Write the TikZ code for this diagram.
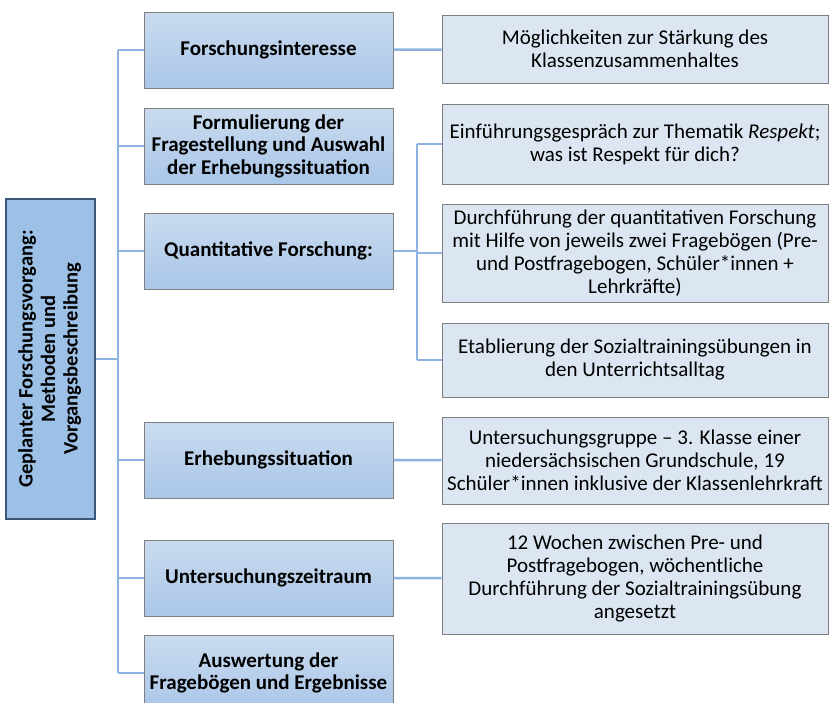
\documentclass[tikz,border=0pt]{standalone}
\usepackage{fontspec}
\setmainfont{Carlito}
\usepackage{tikz}
\usetikzlibrary{positioning, calc}

\definecolor{linkblue}{HTML}{8DB3E2}
\definecolor{rootfill}{HTML}{9DC1E6}
\definecolor{rootedge}{HTML}{3A5778}
\definecolor{midtop}{HTML}{CADBEF}
\definecolor{midbot}{HTML}{A9C6E8}
\definecolor{rightfill}{HTML}{DCE6F2}
\definecolor{boxedge}{HTML}{7F7F7F}

\begin{document}
\begin{tikzpicture}[
    x=1pt, y=-1pt,
    every node/.style={inner sep=2pt},
    root/.style={draw=rootedge, line width=1.3pt, fill=rootfill, minimum width=89pt,
                 minimum height=320pt, align=center,
                 font=\fontsize{20.5}{22.5}\selectfont\bfseries},
    topic/.style={draw=boxedge, line width=1pt, top color=midtop, bottom color=midbot,
                  minimum width=249pt, minimum height=76pt, align=center,
                  font=\fontsize{21}{22.5}\selectfont\bfseries},
    detail/.style={draw=boxedge, line width=1pt, fill=rightfill, minimum width=386pt,
                   align=center, font=\fontsize{21}{23}\selectfont},
    conn/.style={draw=linkblue, line width=2.5pt}
]
\useasboundingbox (0,0) rectangle (830,702);

% ================= Root (rotated title) =================
\node[root] (root) at (50.5,359) {\rotatebox{90}{\begin{tabular}{@{}c@{}}
    Geplanter Forschungsvorgang:\\ Methoden und\\ Vorgangsbeschreibung\end{tabular}}};

% ================= Middle column =================
\node[topic] (interesse) at (268.5,50) {Forschungsinteresse};
\node[topic, below=19pt of interesse] (formulierung) {Formulierung der\\Fragestellung und Auswahl\\der Erhebungssituation};
\node[topic, below=28pt of formulierung] (quanti) {Quantitative Forschung:};
\node[topic, below=132pt of quanti] (erhebung) {Erhebungssituation};
\node[topic, below=41pt of erhebung] (zeitraum) {Untersuchungszeitraum};
\node[topic, below=18pt of zeitraum] (auswertung) {Auswertung der\\Fragebögen und Ergebnisse};

% ================= Right column =================
\node[detail, minimum height=68pt] (moeglich) at (635,49) {Möglichkeiten zur Stärkung des\\Klassenzusammenhaltes};
\node[detail, minimum height=80pt, below=20pt of moeglich] (einf) {Einführungsgespräch zur Thematik \emph{Respekt};\\was ist Respekt für dich?};
\node[detail, minimum height=98pt, below=19pt of einf] (durch) {Durchführung der quantitativen Forschung\\mit Hilfe von jeweils zwei Fragebögen (Pre-\\und Postfragebogen, Schüler*innen +\\Lehrkräfte)};
\node[detail, minimum height=74pt, below=20pt of durch] (etab) {Etablierung der Sozialtrainingsübungen in\\den Unterrichtsalltag};
\node[detail, minimum height=87pt, below=19pt of etab] (gruppe) {Untersuchungsgruppe -- 3. Klasse einer\\niedersächsischen Grundschule, 19\\Schüler*innen inklusive der Klassenlehrkraft};
\node[detail, minimum height=111pt, below=18pt of gruppe] (wochen) {12 Wochen zwischen Pre- und\\Postfragebogen, wöchentliche\\Durchführung der Sozialtrainingsübung\\angesetzt};

% ================= Connectors =================
\coordinate (spinetop) at (118,0 |- interesse.west);
\coordinate (spinebot) at (118,0 |- auswertung.west);
\draw[conn] (spinetop) -- (spinebot);
\draw[conn] (root.east) -- (root.east -| spinetop);
\foreach \n in {interesse, formulierung, quanti, erhebung, zeitraum, auswertung}
    \draw[conn] (\n.west) -- (\n.west -| spinetop);

% Quantitative branch
\coordinate (qtop) at (417,0 |- einf.west);
\coordinate (qbot) at (417,0 |- etab.west);
\draw[conn] (qtop) -- (qbot);
\draw[conn] (quanti.east) -- (quanti.east -| qtop);
\foreach \n in {einf, durch, etab}
    \draw[conn] (\n.west -| qtop) -- (\n.west);

\draw[conn] (interesse) -- (moeglich);
\draw[conn] (erhebung) -- (gruppe);
\draw[conn] (zeitraum) -- (wochen);

\end{tikzpicture}
\end{document}
